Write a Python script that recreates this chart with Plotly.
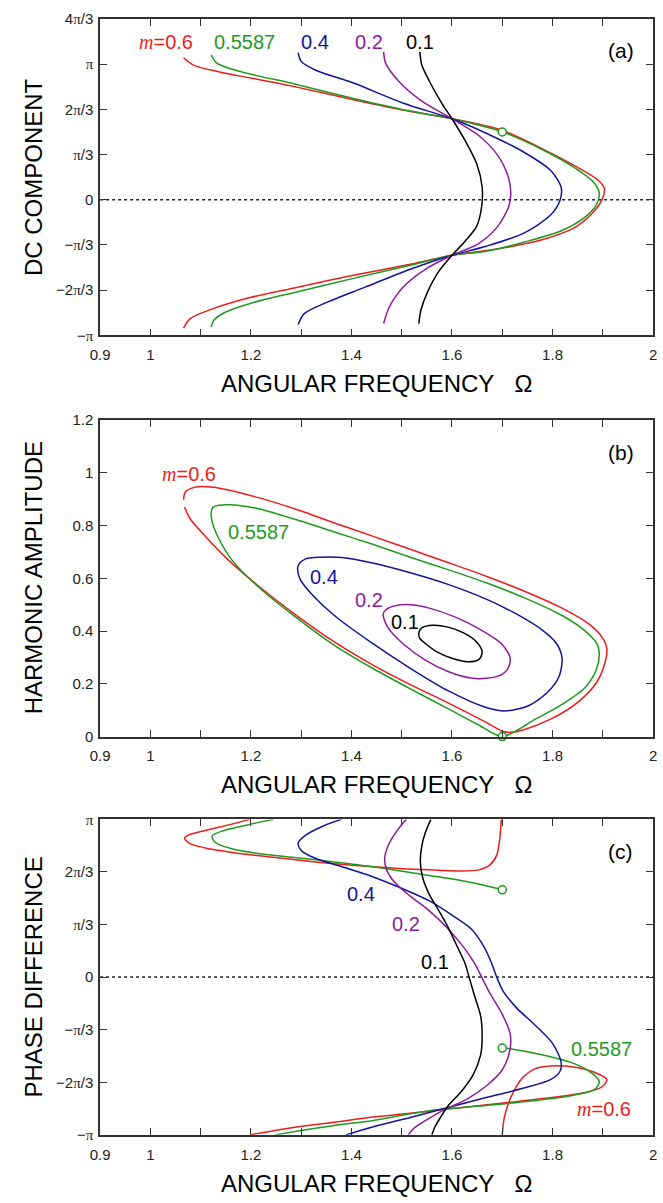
import plotly.graph_objects as go

# ---------------- DATA ----------------
# Panel (a): DC component (units of pi/3) vs angular frequency Omega
A_RED_W = [1.066, 1.087, 1.140, 1.200, 1.291, 1.404, 1.517, 1.600, 1.698, 1.781, 1.849, 1.891, 1.903, 1.898, 1.879, 1.842, 1.781, 1.706, 1.600, 1.517, 1.404, 1.291, 1.200, 1.125, 1.079, 1.066]
A_RED_Y = [3.14, 2.97, 2.82, 2.69, 2.49, 2.21, 1.95, 1.79, 1.54, 1.12, 0.72, 0.43, 0.25, -0.01, -0.30, -0.63, -0.88, -1.06, -1.23, -1.43, -1.67, -1.94, -2.16, -2.41, -2.63, -2.84]
A_GRN_W = [1.121, 1.132, 1.177, 1.291, 1.404, 1.517, 1.600, 1.700, 1.781, 1.842, 1.883, 1.893, 1.887, 1.864, 1.819, 1.743, 1.668, 1.600, 1.517, 1.404, 1.291, 1.200, 1.147, 1.126, 1.121]
A_GRN_Y = [3.20, 3.02, 2.84, 2.55, 2.24, 1.96, 1.79, 1.50, 1.10, 0.72, 0.37, 0.14, -0.12, -0.39, -0.68, -0.94, -1.14, -1.23, -1.45, -1.74, -2.04, -2.29, -2.50, -2.67, -2.82]
A_BLU_W = [1.294, 1.300, 1.328, 1.404, 1.502, 1.600, 1.668, 1.743, 1.796, 1.817, 1.815, 1.796, 1.743, 1.668, 1.600, 1.517, 1.426, 1.351, 1.306, 1.294]
A_BLU_Y = [3.25, 3.06, 2.87, 2.58, 2.14, 1.79, 1.47, 1.05, 0.65, 0.28, -0.01, -0.34, -0.74, -1.03, -1.23, -1.54, -1.94, -2.27, -2.52, -2.76]
A_PUR_W = [1.464, 1.468, 1.494, 1.540, 1.600, 1.653, 1.691, 1.712, 1.717, 1.713, 1.691, 1.653, 1.600, 1.547, 1.502, 1.475, 1.464]
A_PUR_Y = [3.27, 3.02, 2.62, 2.18, 1.79, 1.42, 0.98, 0.50, 0.14, -0.15, -0.59, -0.97, -1.23, -1.54, -1.94, -2.38, -2.74]
A_BLK_W = [1.536, 1.540, 1.555, 1.581, 1.600, 1.626, 1.649, 1.660, 1.659, 1.649, 1.626, 1.600, 1.574, 1.551, 1.538, 1.534]
A_BLK_Y = [3.27, 2.98, 2.62, 2.11, 1.79, 1.31, 0.80, 0.28, -0.15, -0.59, -0.92, -1.23, -1.58, -2.05, -2.45, -2.74]
A_MARK_W = [1.7]
A_MARK_Y = [1.50]

# Panel (b): harmonic amplitude vs Omega
B_RED_W = [1.066, 1.069, 1.081, 1.102, 1.140, 1.215, 1.291, 1.366, 1.442, 1.517, 1.592, 1.668, 1.743, 1.819, 1.872, 1.898, 1.908, 1.904, 1.887, 1.849, 1.796, 1.743, 1.717, 1.702, 1.668, 1.592, 1.517, 1.442, 1.366, 1.291, 1.215, 1.155, 1.110, 1.079, 1.068]
B_RED_A = [0.898, 0.926, 0.941, 0.948, 0.941, 0.906, 0.861, 0.810, 0.760, 0.710, 0.660, 0.608, 0.552, 0.487, 0.427, 0.378, 0.334, 0.278, 0.203, 0.128, 0.066, 0.026, 0.016, 0.019, 0.054, 0.128, 0.197, 0.272, 0.359, 0.459, 0.571, 0.670, 0.758, 0.826, 0.870]
B_GRN_W = [1.121, 1.125, 1.136, 1.162, 1.215, 1.291, 1.366, 1.442, 1.517, 1.592, 1.668, 1.743, 1.819, 1.864, 1.888, 1.893, 1.887, 1.864, 1.819, 1.766, 1.700, 1.653, 1.592, 1.517, 1.442, 1.366, 1.291, 1.215, 1.162, 1.136, 1.123, 1.121]
B_GRN_A = [0.851, 0.870, 0.877, 0.879, 0.864, 0.822, 0.776, 0.729, 0.680, 0.633, 0.583, 0.527, 0.459, 0.402, 0.353, 0.315, 0.253, 0.184, 0.122, 0.066, 0.000, 0.044, 0.106, 0.181, 0.259, 0.346, 0.450, 0.567, 0.670, 0.751, 0.814, 0.851]
B_BLU_W = [1.293, 1.297, 1.309, 1.336, 1.381, 1.442, 1.517, 1.592, 1.668, 1.728, 1.781, 1.808, 1.819, 1.813, 1.789, 1.751, 1.706, 1.668, 1.592, 1.517, 1.442, 1.366, 1.321, 1.298, 1.293]
B_BLU_A = [0.639, 0.658, 0.674, 0.680, 0.679, 0.658, 0.621, 0.577, 0.521, 0.465, 0.402, 0.353, 0.297, 0.228, 0.166, 0.116, 0.097, 0.110, 0.174, 0.259, 0.353, 0.459, 0.540, 0.596, 0.639]
B_PUR_W = [1.463, 1.468, 1.487, 1.517, 1.555, 1.608, 1.660, 1.698, 1.715, 1.713, 1.698, 1.668, 1.638, 1.592, 1.547, 1.502, 1.472, 1.463]
B_PUR_A = [0.462, 0.480, 0.496, 0.500, 0.487, 0.452, 0.402, 0.353, 0.303, 0.265, 0.234, 0.221, 0.222, 0.247, 0.290, 0.353, 0.415, 0.462]
B_BLK_W = [1.534, 1.540, 1.562, 1.592, 1.623, 1.649, 1.660, 1.654, 1.630, 1.600, 1.570, 1.547, 1.536, 1.534]
B_BLK_A = [0.393, 0.412, 0.422, 0.415, 0.393, 0.359, 0.321, 0.293, 0.284, 0.297, 0.321, 0.353, 0.372, 0.393]
B_MARK_W = [1.7]
B_MARK_A = [0.0]

# Panel (c): phase difference (units of pi/3) vs Omega, split where it wraps at +-pi
C_RED1_W = [1.198, 1.162, 1.109, 1.075, 1.068, 1.079, 1.117, 1.177, 1.253, 1.328, 1.442, 1.555, 1.615, 1.653, 1.675, 1.689, 1.695, 1.698]
C_RED1_Y = [3.00, 2.91, 2.79, 2.70, 2.64, 2.54, 2.44, 2.35, 2.27, 2.19, 2.10, 2.04, 2.02, 2.04, 2.13, 2.32, 2.63, 3.00]
C_RED2_W = [1.700, 1.704, 1.717, 1.740, 1.766, 1.796, 1.842, 1.883, 1.908, 1.898, 1.857, 1.781, 1.706, 1.630, 1.585, 1.517, 1.442, 1.366, 1.291, 1.198]
C_RED2_Y = [-3.00, -2.67, -2.29, -1.92, -1.74, -1.69, -1.71, -1.81, -1.95, -2.09, -2.21, -2.31, -2.39, -2.47, -2.51, -2.59, -2.66, -2.76, -2.85, -3.00]
C_GRN1_W = [1.245, 1.200, 1.147, 1.123, 1.128, 1.162, 1.215, 1.291, 1.366, 1.442, 1.517, 1.592, 1.653, 1.700]
C_GRN1_Y = [3.00, 2.91, 2.79, 2.69, 2.57, 2.44, 2.35, 2.27, 2.19, 2.10, 1.99, 1.88, 1.77, 1.66]
C_GRN2_W = [1.700, 1.721, 1.781, 1.842, 1.879, 1.893, 1.883, 1.834, 1.743, 1.668, 1.585, 1.517, 1.442, 1.366, 1.291, 1.249]
C_GRN2_Y = [-1.35, -1.37, -1.48, -1.64, -1.83, -1.99, -2.14, -2.26, -2.37, -2.44, -2.51, -2.60, -2.73, -2.82, -2.93, -3.00]
C_BLU_W = [1.380, 1.343, 1.309, 1.294, 1.300, 1.328, 1.381, 1.442, 1.502, 1.555, 1.600, 1.638, 1.664, 1.679, 1.689, 1.702, 1.728, 1.766, 1.800, 1.817, 1.815, 1.796, 1.743, 1.668, 1.592, 1.517, 1.442, 1.389]
C_BLU_Y = [3.00, 2.87, 2.70, 2.55, 2.41, 2.26, 2.10, 1.91, 1.68, 1.45, 1.18, 0.92, 0.57, 0.26, 0.00, -0.27, -0.58, -0.92, -1.26, -1.61, -1.79, -1.95, -2.11, -2.29, -2.48, -2.67, -2.85, -3.00]
C_PUR_W = [1.509, 1.491, 1.473, 1.466, 1.470, 1.487, 1.517, 1.555, 1.592, 1.623, 1.645, 1.659, 1.675, 1.698, 1.715, 1.717, 1.713, 1.698, 1.668, 1.630, 1.585, 1.547, 1.525, 1.513]
C_PUR_Y = [3.00, 2.79, 2.50, 2.26, 2.04, 1.79, 1.54, 1.26, 0.92, 0.57, 0.26, 0.00, -0.30, -0.67, -1.05, -1.23, -1.48, -1.79, -2.07, -2.32, -2.52, -2.73, -2.87, -3.00]
C_BLK_W = [1.558, 1.547, 1.540, 1.537, 1.542, 1.555, 1.574, 1.592, 1.611, 1.626, 1.634, 1.645, 1.657, 1.660, 1.657, 1.642, 1.619, 1.592, 1.577, 1.566, 1.560]
C_BLK_Y = [3.00, 2.75, 2.50, 2.19, 1.88, 1.57, 1.26, 0.95, 0.57, 0.26, 0.00, -0.36, -0.74, -1.11, -1.48, -1.86, -2.17, -2.45, -2.67, -2.85, -3.00]
C_MARK_W = [1.7, 1.7]
C_MARK_Y = [1.66, -1.35]

# Axis ticks
PI = "<span style='font-family:Liberation Serif'>π</span>"
X_TICKS = [0.9, 1.0, 1.1, 1.2, 1.3, 1.4, 1.5, 1.6, 1.7, 1.8, 1.9, 2.0]
X_TEXT = ["0.9", "1", "", "1.2", "", "1.4", "", "1.6", "", "1.8", "", "2"]
A_TICKS = [-3, -2, -1, 0, 1, 2, 3, 4]
A_TEXT = ["−" + PI, "−2" + PI + "/3", "−" + PI + "/3", "0", PI + "/3", "2" + PI + "/3", PI, "4" + PI + "/3"]
B_TICKS = [0, 0.2, 0.4, 0.6, 0.8, 1.0, 1.2]
B_TEXT = ["0", "0.2", "0.4", "0.6", "0.8", "1", "1.2"]
C_TICKS = [-3, -2, -1, 0, 1, 2, 3]
C_TEXT = ["−" + PI, "−2" + PI + "/3", "−" + PI + "/3", "0", PI + "/3", "2" + PI + "/3", PI]

# ---------------- STYLE ----------------
RED = "#ee1c1c"
GRN = "#1f9a1f"
BLU = "#141496"
PUR = "#8c1c9c"
BLK = "#000000"
FONT = "Liberation Sans, Arial, sans-serif"
W, H = 663, 1203

fig = go.Figure()

def line(x, y, color, ax, width=1.5):
    fig.add_trace(go.Scatter(x=x, y=y, mode="lines", xaxis="x" + ax, yaxis="y" + ax,
                             line=dict(color=color, width=width, shape="spline", smoothing=0.8),
                             hoverinfo="skip", showlegend=False))

def marks(x, y, ax):
    fig.add_trace(go.Scatter(x=x, y=y, mode="markers", xaxis="x" + ax, yaxis="y" + ax,
                             marker=dict(symbol="circle", size=8, color="white",
                                         line=dict(color=GRN, width=1.5)),
                             cliponaxis=False, hoverinfo="skip", showlegend=False))

def zero(ax):
    fig.add_trace(go.Scatter(x=[0.9, 2.0], y=[0, 0], mode="lines", xaxis="x" + ax, yaxis="y" + ax,
                             line=dict(color="#222", width=1.5, dash="dot"),
                             hoverinfo="skip", showlegend=False))

# panel a
zero("")
for xw, yy, c in [(A_RED_W, A_RED_Y, RED), (A_GRN_W, A_GRN_Y, GRN), (A_BLU_W, A_BLU_Y, BLU),
                  (A_PUR_W, A_PUR_Y, PUR), (A_BLK_W, A_BLK_Y, BLK)]:
    line(xw, yy, c, "")
marks(A_MARK_W, A_MARK_Y, "")

# panel b
for xw, yy, c in [(B_RED_W, B_RED_A, RED), (B_GRN_W, B_GRN_A, GRN), (B_BLU_W, B_BLU_A, BLU),
                  (B_PUR_W, B_PUR_A, PUR), (B_BLK_W, B_BLK_A, BLK)]:
    line(xw, yy, c, "2")
marks(B_MARK_W, B_MARK_A, "2")

# panel c
zero("3")
for xw, yy, c in [(C_RED1_W, C_RED1_Y, RED), (C_RED2_W, C_RED2_Y, RED), (C_GRN1_W, C_GRN1_Y, GRN),
                  (C_GRN2_W, C_GRN2_Y, GRN), (C_BLU_W, C_BLU_Y, BLU), (C_PUR_W, C_PUR_Y, PUR),
                  (C_BLK_W, C_BLK_Y, BLK)]:
    line(xw, yy, c, "3")
marks(C_MARK_W, C_MARK_Y, "3")

XDOM = [92 / W, 657 / W]
def ydom(top, bot):
    return [1 - bot / H, 1 - top / H]

axis_common = dict(showline=True, linecolor="#333", linewidth=1.6, mirror="ticks",
                   ticks="inside", ticklen=7, tickwidth=1.4, tickcolor="#333",
                   showgrid=False, zeroline=False,
                   tickfont=dict(family=FONT, size=15, color="#222"))

lay = dict(width=W, height=H, margin=dict(l=0, r=0, t=0, b=0),
           paper_bgcolor="white", plot_bgcolor="white", showlegend=False,
           font=dict(family=FONT, color="black"))
for ax, dom, yt, ytx, yr in [("", ydom(10, 331), A_TICKS, A_TEXT, [-3, 4]),
                             ("2", ydom(417, 738), B_TICKS, B_TEXT, [0, 1.2]),
                             ("3", ydom(822, 1142), C_TICKS, C_TEXT, [-3, 3])]:
    lay["xaxis" + ax] = dict(axis_common, domain=XDOM, range=[0.8999, 2.0001], anchor="y" + ax,
                             tickmode="array", tickvals=X_TICKS, ticktext=X_TEXT,
                             ticklabelstandoff=5)
    lay["yaxis" + ax] = dict(axis_common, domain=dom, range=yr, anchor="x" + ax,
                             tickmode="array", tickvals=yt, ticktext=ytx,
                             ticklabelstandoff=2)
fig.update_layout(**lay)

M = "<span style='font-family:Liberation Serif;font-style:italic'>m</span>=0.6"
anns = []
def lab(text, x, y, ax, color, size=20):
    anns.append(dict(text=text, x=x, y=y, xref="x" + ax, yref="y" + ax, showarrow=False,
                     font=dict(family=FONT, size=size, color=color)))

# panel a labels
lab(M, 1.032, 3.49, "", RED)
lab("0.5587", 1.187, 3.49, "", GRN)
lab("0.4", 1.328, 3.49, "", BLU)
lab("0.2", 1.434, 3.49, "", PUR)
lab("0.1", 1.536, 3.49, "", BLK)
lab("(a)", 1.936, 3.31, "", BLK, 21)
# panel b labels
lab(M, 1.076, 0.994, "2", RED)
lab("0.5587", 1.215, 0.776, "2", GRN)
lab("0.4", 1.345, 0.606, "2", BLU)
lab("0.2", 1.434, 0.517, "2", PUR)
lab("0.1", 1.506, 0.434, "2", BLK)
lab("(b)", 1.936, 1.078, "2", BLK, 21)
# panel c labels
lab("0.4", 1.419, 1.58, "3", BLU)
lab("0.2", 1.509, 1.01, "3", PUR)
lab("0.1", 1.566, 0.29, "3", BLK)
lab("0.5587", 1.898, -1.36, "3", GRN)
lab(M, 1.903, -2.51, "3", RED)
lab("(c)", 1.936, 2.39, "3", BLK, 21)

XT = "ANGULAR FREQUENCY\u00a0\u00a0\u00a0Ω"
for ypx in [380, 787, 1191]:
    anns.append(dict(text=XT, x=(XDOM[0] + XDOM[1]) / 2, y=1 - ypx / H, xref="paper", yref="paper",
                     showarrow=False, xanchor="center", yanchor="middle",
                     font=dict(family=FONT, size=24, color="black")))
for txt, ypx in [("DC COMPONENT", 170), ("HARMONIC AMPLITUDE", 577), ("PHASE DIFFERENCE", 982)]:
    anns.append(dict(text=txt, x=24 / W, y=1 - ypx / H, xref="paper", yref="paper",
                     showarrow=False, xanchor="center", yanchor="middle", textangle=-90,
                     font=dict(family=FONT, size=24, color="black")))
fig.update_layout(annotations=anns)

fig.write_html("out.html", config={"displayModeBar": False},
               post_script="document.body.style.margin='0';document.body.style.padding='0';"
                           "document.body.style.overflow='hidden';")
